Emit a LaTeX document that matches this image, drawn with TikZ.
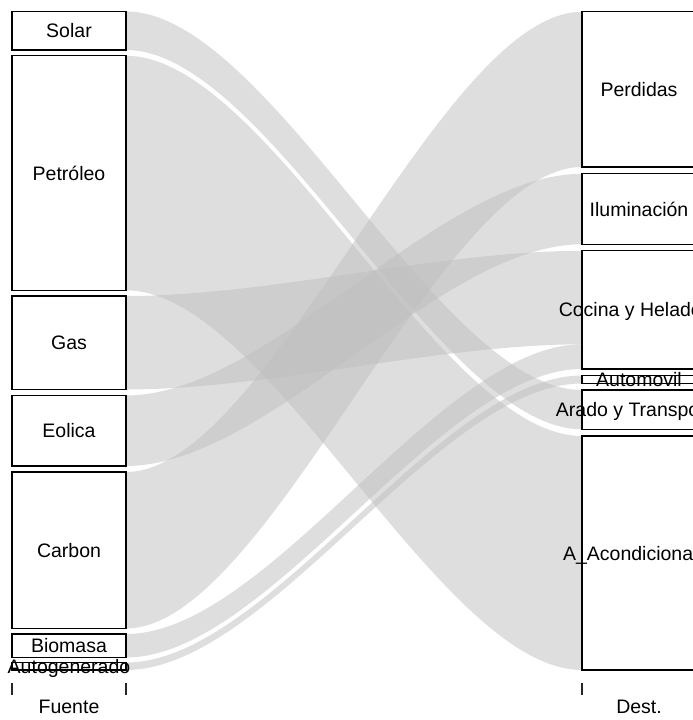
\documentclass[tikz,border=0pt]{standalone}
\usepackage{fontspec}
\setmainfont{Liberation Sans}
\usetikzlibrary{backgrounds}
\newcommand\alluvflow[4]{\fill[flow] (#1) .. controls +(142.5,0) and +(-142.5,0) .. (#3) -- (#4) .. controls +(-142.5,0) and +(142.5,0) .. (#2) -- cycle;}
\begin{document}
\begin{tikzpicture}[x=1pt,y=-1pt,
  box/.style={draw=black, line width=1.2pt, fill=white, minimum width=114pt, inner sep=0pt, outer sep=0pt},
  lab/.style={font=\fontsize{19.5}{22}\selectfont, text height=14pt, text depth=0pt, inner sep=0pt},
  axlab/.style={font=\fontsize{19.5}{22}\selectfont, inner sep=0pt, anchor=base},
  flow/.style={fill={rgb,255:red,190;green,190;blue,190}, fill opacity=0.5},
  tick/.style={draw=black!85, line width=1.1pt}]
\useasboundingbox (0,0) rectangle (693,720);
\clip (0,0) rectangle (693,720);
% left axis boxes
\node[box, minimum height=38.5pt] (solar) at (69,30.75) {};
\node[box, minimum height=234.5pt] (petroleo) at (69,173.05) {};
\node[box, minimum height=93.5pt] (gas) at (69,342.75) {};
\node[box, minimum height=70.5pt] (eolica) at (69,430.75) {};
\node[box, minimum height=156.5pt] (carbon) at (69,550.25) {};
\node[box, minimum height=23.5pt] (biomasa) at (69,645.75) {};
\node[box, minimum height=7.5pt] (autog) at (69,666.25) {};
% right axis boxes
\node[box, minimum height=155.2pt] (perdidas) at (639,89.4) {};
\node[box, minimum height=70.5pt] (ilum) at (639,209.05) {};
\node[box, minimum height=118.2pt] (cocina) at (639,309.9) {};
\node[box, minimum height=8pt] (automovil) at (639,379.5) {};
\node[box, minimum height=39.3pt] (arado) at (639,409.65) {};
\node[box, minimum height=234pt] (aacond) at (639,553) {};
\coordinate (cocsplit) at (582,344.3);
% flows
\begin{scope}[on background layer]
\alluvflow{solar.north east}{solar.south east}{arado.north west}{arado.south west}
\alluvflow{petroleo.north east}{petroleo.south east}{aacond.north west}{aacond.south west}
\alluvflow{gas.north east}{gas.south east}{cocina.north west}{cocsplit}
\alluvflow{eolica.north east}{eolica.south east}{ilum.north west}{ilum.south west}
\alluvflow{carbon.north east}{carbon.south east}{perdidas.north west}{perdidas.south west}
\alluvflow{biomasa.north east}{biomasa.south east}{cocsplit}{cocina.south west}
\alluvflow{autog.north east}{autog.south east}{automovil.north west}{automovil.south west}
\end{scope}
% labels
\node[lab] at (solar) {Solar};
\node[lab] at (petroleo) {Petróleo};
\node[lab] at (gas) {Gas};
\node[lab] at (eolica) {Eolica};
\node[lab] at (carbon) {Carbon};
\node[lab] at (biomasa) {Biomasa};
\node[lab] at (autog) {Autogenerado};
\node[lab] at (perdidas) {Perdidas};
\node[lab] at (ilum) {Iluminación};
\node[lab] at (cocina) {Cocina y Heladera};
\node[lab] at (automovil) {Automovil};
\node[lab] at (arado) {Arado y Transporte};
\node[lab] at (aacond) {A\_Acondicionado};
% axis ticks and names
\coordinate (t1) at (12,683); \coordinate (t2) at (126,683); \coordinate (t3) at (582,683);
\draw[tick] (t1) -- +(0,12);
\draw[tick] (t2) -- +(0,12);
\draw[tick] (t3) -- +(0,12);
\node[axlab] (fuente) at (69,713) {Fuente};
\node[axlab] (dest) at (639,713.5) {Dest.};
\end{tikzpicture}
\end{document}
